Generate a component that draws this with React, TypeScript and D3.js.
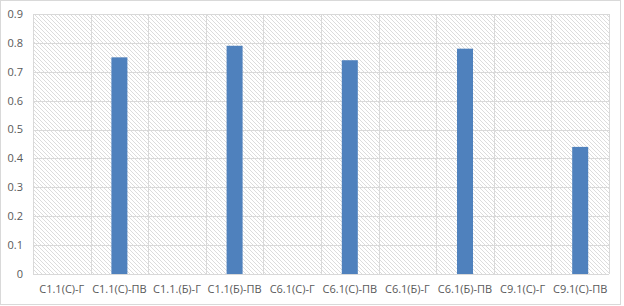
import React, { useEffect, useRef } from 'react';
import * as d3 from 'd3';

const categories = [
  'С1.1(С)-Г', 'С1.1(С)-ПВ', 'С1.1.(Б)-Г', 'С1.1(Б)-ПВ', 'С6.1(С)-Г',
  'С6.1(С)-ПВ', 'С6.1(Б)-Г', 'С6.1(Б)-ПВ', 'С9.1(С)-Г', 'С9.1(С)-ПВ',
];
const values = [0, 0.75, 0, 0.79, 0, 0.74, 0, 0.78, 0, 0.44];
const yTicks = [0, 0.1, 0.2, 0.3, 0.4, 0.5, 0.6, 0.7, 0.8, 0.9];

const width = 624;
const height = 306;
const margin = { top: 14, right: 15, bottom: 32, left: 33 };

export default function App() {
  const svgRef = useRef<SVGSVGElement>(null);

  useEffect(() => {
    const svg = d3.select(svgRef.current);
    svg.selectAll('*').remove();

    const x = d3
      .scaleBand<string>()
      .domain(categories)
      .range([margin.left, width - margin.right])
      .padding(0);
    const y = d3
      .scaleLinear()
      .domain([0, 0.9])
      .range([height - margin.bottom, margin.top]);

    const font = "'Open Sans', 'Liberation Sans', sans-serif";

    // hatch pattern for plot background
    const defs = svg.append('defs');
    const pat = defs
      .append('pattern')
      .attr('id', 'hatch')
      .attr('patternUnits', 'userSpaceOnUse')
      .attr('width', 4)
      .attr('height', 4);
    pat.append('rect').attr('width', 4).attr('height', 4).attr('fill', '#fff');
    pat
      .append('path')
      .attr('d', 'M-1,-1 L5,5 M-1,3 L1,5 M3,-1 L5,1')
      .attr('stroke', '#dcdcdc')
      .attr('stroke-width', 1);

    // chart border
    svg.append('rect')
      .attr('x', 0.5).attr('y', 0.5)
      .attr('width', 620).attr('height', 304)
      .attr('fill', '#fff')
      .attr('stroke', '#d9d9d9');

    const [x0, x1] = x.range();
    const [yb, yt] = y.range();

    svg.append('rect')
      .attr('x', x0).attr('y', yt)
      .attr('width', x1 - x0).attr('height', yb - yt)
      .attr('fill', 'url(#hatch)');

    // horizontal gridlines
    svg.append('g')
      .selectAll('line')
      .data(yTicks)
      .enter().append('line')
      .attr('x1', x0).attr('x2', x1)
      .attr('y1', (d) => Math.round(y(d)) + 0.5)
      .attr('y2', (d) => Math.round(y(d)) + 0.5)
      .attr('stroke', '#d9d9d9');

    // vertical gridlines at category boundaries
    const bounds = categories.map((c) => x(c) as number).concat([x1]);
    svg.append('g')
      .selectAll('line')
      .data(bounds)
      .enter().append('line')
      .attr('x1', (d) => Math.round(d) + 0.5)
      .attr('x2', (d) => Math.round(d) + 0.5)
      .attr('y1', yt).attr('y2', yb)
      .attr('stroke', '#d9d9d9');

    // bars
    const bw = x.bandwidth() * 0.278;
    svg.append('g')
      .selectAll('rect')
      .data(values)
      .enter().append('rect')
      .attr('x', (d, i) => (x(categories[i]) as number) + (x.bandwidth() - bw) / 2)
      .attr('y', (d) => y(d))
      .attr('width', bw)
      .attr('height', (d) => y(0) - y(d))
      .attr('fill', '#4f81bd');

    // y labels
    svg.append('g')
      .selectAll('text')
      .data(yTicks)
      .enter().append('text')
      .attr('x', 23)
      .attr('y', (d) => y(d))
      .attr('dy', '0.35em')
      .attr('text-anchor', 'end')
      .style('font-family', font)
      .style('font-size', '11px')
      .style('fill', '#595959')
      .text((d) => (d === 0 ? '0' : d.toFixed(1)));

    // x labels
    svg.append('g')
      .selectAll('text')
      .data(categories)
      .enter().append('text')
      .attr('x', (d) => (x(d) as number) + x.bandwidth() / 2)
      .attr('y', 293)
      .attr('text-anchor', 'middle')
      .style('font-family', font)
      .style('font-size', '11px')
      .style('fill', '#595959')
      .text((d) => d);
  }, []);

  return (
    <div style={{ position: 'absolute', left: 0, top: 0 }}>
      <svg ref={svgRef} width={width} height={height} style={{ display: 'block' }} />
    </div>
  );
}
